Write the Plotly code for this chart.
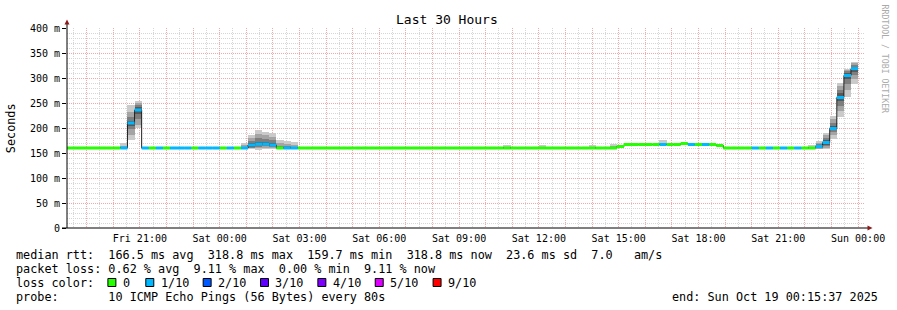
import plotly.graph_objects as go
import pandas as pd

FONT = "DejaVu Sans Mono"

# ---------------- data ----------------
sample_start = "2025-10-17 18:08"      # first consolidated 16-minute sample
view_start = "2025-10-17 18:15:37"
view_end = "2025-10-19 00:15:37"

# median RTT per 16-minute sample (ms)
median_ms = [
    160, 160, 160, 160, 160, 160, 160, 160, 160, 210,   # 0-9
    236, 160, 160, 160, 160, 160, 160, 160, 160, 160,   # 10-19
    160, 160, 160, 160, 160, 160, 166, 168, 168, 166,   # 20-29
    160, 160, 160, 160, 160, 160, 160, 160, 160, 160,   # 30-39
    160, 160, 160, 160, 160, 160, 160, 160, 160, 160,   # 40-49
    160, 160, 160, 160, 160, 160, 160, 160, 160, 160,   # 50-59
    160, 160, 160, 160, 160, 160, 160, 160, 160, 160,   # 60-69
    160, 160, 160, 160, 160, 160, 160, 160, 163, 167,   # 70-79
    167, 167, 167, 167, 167, 167, 167, 169, 167, 167,   # 80-89
    167, 167, 165, 160, 160, 160, 160, 160, 160, 160,   # 90-99
    160, 160, 160, 160, 160, 160, 163, 171, 199, 261,   # 100-109
    305, 318.8,                                         # 110-111
]

# lost pings (out of 10) per sample
loss_count = [
    0, 0, 0, 0, 0, 0, 0, 0, 1, 1,
    1, 1, 0, 1, 0, 1, 1, 1, 0, 1,
    1, 1, 0, 1, 0, 1, 1, 1, 1, 1,
    0, 1, 1, 0, 0, 0, 0, 0, 0, 0,
    0, 0, 0, 0, 0, 0, 0, 0, 0, 0,
    0, 0, 0, 0, 0, 0, 0, 0, 0, 0,
    0, 0, 0, 0, 0, 0, 0, 0, 0, 0,
    0, 0, 0, 0, 0, 0, 0, 0, 0, 0,
    0, 0, 0, 0, 1, 0, 0, 0, 1, 0,
    1, 0, 0, 0, 0, 0, 0, 1, 0, 1,
    0, 1, 0, 1, 0, 0, 1, 1, 1, 1,
    1, 1,
]

# sorted individual ping times (ms) for samples with visible smoke
smoke_index = [8, 9, 10, 25, 26, 27, 28, 29, 30, 31, 32, 62, 67, 74, 77, 84,
               105, 106, 107, 108, 109, 110, 111]
smoke_pings = [
    [159.5, 159.8, 160, 160, 160, 160.2, 160.5, 161, 164, 170],
    [176, 186, 198, 205, 209, 211, 215, 222, 232, 246],
    [200, 206, 218, 228, 234, 238, 242, 246, 250, 254],
    [159, 160, 160, 160, 160, 160, 161, 162, 166, 170],
    [158, 160, 161, 163, 165, 167, 170, 174, 180, 186],
    [157, 160, 163, 166, 167, 169, 173, 180, 188, 196],
    [158, 161, 164, 166, 167, 169, 172, 178, 186, 193],
    [158, 160, 163, 165, 166, 168, 171, 176, 183, 190],
    [159, 159, 160, 160, 160, 161, 162, 165, 170, 176],
    [159, 159, 160, 160, 160, 161, 162, 164, 168, 174],
    [159, 160, 160, 160, 160, 160, 161, 162, 166, 172],
    [159, 159.5, 160, 160, 160, 160, 160.5, 161, 163, 166],
    [159, 159.5, 160, 160, 160, 160, 160.5, 161, 163, 166],
    [159, 159.5, 160, 160, 160, 160, 160.5, 161, 163, 166],
    [159, 159.5, 160, 160, 160, 160, 160.5, 161, 164, 168],
    [166, 166.5, 167, 167, 167, 167, 167.5, 168, 171, 176],
    [159, 159.5, 160, 160, 160, 160, 160.5, 161, 163, 166],
    [158, 159, 160, 161, 162, 164, 166, 168, 171, 175],
    [158, 161, 164, 167, 170, 172, 176, 180, 186, 191],
    [179, 186, 192, 196, 198, 200, 204, 210, 218, 225],
    [223, 234, 245, 254, 259, 263, 270, 276, 284, 291],
    [263, 276, 288, 298, 303, 307, 311, 314, 317, 319],
    [289, 298, 306, 312, 317, 320, 323, 326, 330, 333],
]

loss_colors = ["#26ff00", "#00b8ff", "#0059ff", "#5e00ff", "#7e00ff", "#dd00ff", "#ff0000"]
loss_labels = ["0", "1/10", "2/10", "3/10", "4/10", "5/10", "9/10"]
smoke_grays = ["#cacaca", "#a4a4a4", "#7e7e7e", "#585858", "#323232"]

y_tickvals = [0, 50, 100, 150, 200, 250, 300, 350, 400]
y_ticktext = ["0", "50 m", "100 m", "150 m", "200 m", "250 m", "300 m", "350 m", "400 m"]

x_tick_hours = pd.date_range("2025-10-17 19:00", "2025-10-19 00:00", freq="1h")
x_labels = {"2025-10-17 21:00": "Fri 21:00", "2025-10-18 00:00": "Sat 00:00",
            "2025-10-18 03:00": "Sat 03:00", "2025-10-18 06:00": "Sat 06:00",
            "2025-10-18 09:00": "Sat 09:00", "2025-10-18 12:00": "Sat 12:00",
            "2025-10-18 15:00": "Sat 15:00", "2025-10-18 18:00": "Sat 18:00",
            "2025-10-18 21:00": "Sat 21:00", "2025-10-19 00:00": "Sun 00:00"}

legend_rows = [
    "median rtt:  166.5 ms avg  318.8 ms max  159.7 ms min  318.8 ms now  23.6 ms sd  7.0   am/s",
    "packet loss: 0.62 % avg  9.11 % max  0.00 % min  9.11 % now",
    "loss color:",
    "probe:       10 ICMP Echo Pings (56 Bytes) every 80s",
]
end_text = "end: Sun Oct 19 00:15:37 2025"

# ---------------- geometry helpers ----------------
W, H = 897, 310
L, R, T, B = 67, 30, 28, 82
PW, PH = W - L - R, H - T - B


def px(x):
    return (x - L) / PW


def py(y):
    return (T + PH - y) / PH


step = pd.Timedelta(minutes=16)
times = pd.date_range(sample_start, periods=len(median_ms), freq="16min")
step_ms = step.total_seconds() * 1000

fig = go.Figure()

# smoke bands
for b, gray in enumerate(smoke_grays):
    xs, bases, heights = [], [], []
    for idx, pings in zip(smoke_index, smoke_pings):
        p = sorted(pings)
        xs.append(times[idx])
        bases.append(p[b])
        heights.append(p[len(p) - 1 - b] - p[b])
    fig.add_trace(go.Bar(x=xs, y=heights, base=bases, width=[step_ms] * len(xs),
                         offset=0, marker=dict(color=gray, line=dict(width=0)),
                         hoverinfo="skip"))

# thin dark median step line
fig.add_trace(go.Scatter(x=list(times) + [times[-1] + step], y=median_ms + [median_ms[-1]],
                         mode="lines", line=dict(color="#202020", width=1, shape="hv"),
                         hoverinfo="skip"))

# loss-coloured median segments
for lvl, col in enumerate(loss_colors):
    xs, ys = [], []
    for t, m, lc in zip(times, median_ms, loss_count):
        if lc == lvl:
            xs += [t, t + step, None]
            ys += [m, m, None]
    if xs:
        fig.add_trace(go.Scatter(x=xs, y=ys, mode="lines",
                                 line=dict(color=col, width=3), hoverinfo="skip"))

annotations = []
shapes = []

# title & side texts
annotations.append(dict(text="Last 30 Hours", x=px(448), y=py(19), xref="paper", yref="paper",
                        showarrow=False, xanchor="center", yanchor="middle",
                        font=dict(family=FONT, size=13, color="#000")))
annotations.append(dict(text="Seconds", x=px(11), y=py(128), xref="paper", yref="paper",
                        showarrow=False, textangle=-90, xanchor="center", yanchor="middle",
                        font=dict(family=FONT, size=11.8, color="#000")))
annotations.append(dict(text="RRDTOOL / TOBI OETIKER", x=px(887.5), y=py(59), xref="paper",
                        yref="paper", showarrow=False, textangle=90, xanchor="center",
                        yanchor="middle", font=dict(family=FONT, size=8.2, color="#aaaaaa")))

row_y = [255, 268.5, 282.5, 296.5]
for txt, yy in zip(legend_rows, row_y):
    annotations.append(dict(text=txt.replace(" ", "\u00a0"), x=px(14), y=py(yy), xref="paper",
                            yref="paper", showarrow=False, xanchor="left", yanchor="middle",
                            font=dict(family=FONT, size=11.8, color="#000")))
annotations.append(dict(text=end_text.replace(" ", "\u00a0"), x=px(882), y=py(row_y[3]),
                        xref="paper", yref="paper", showarrow=False, xanchor="right",
                        yanchor="middle", font=dict(family=FONT, size=11.8, color="#000")))

box_x = [108, 146, 203.5, 261, 318.5, 376, 434]
for bx, col, lab in zip(box_x, loss_colors, loss_labels):
    shapes.append(dict(type="rect", xref="paper", yref="paper", x0=px(bx), x1=px(bx + 8),
                       y0=py(286.5), y1=py(278.5), fillcolor=col,
                       line=dict(color="#000", width=1)))
    annotations.append(dict(text=lab, x=px(bx + 13), y=py(row_y[2]), xref="paper", yref="paper",
                            showarrow=False, xanchor="left", yanchor="middle",
                            font=dict(family=FONT, size=11.8, color="#000")))

# axes lines & arrows
shapes.append(dict(type="line", xref="paper", yref="paper", x0=px(67), x1=px(67),
                   y0=py(228), y1=py(22), line=dict(color="#000", width=1)))
shapes.append(dict(type="line", xref="paper", yref="paper", x0=px(62), x1=px(870),
                   y0=py(228), y1=py(228), line=dict(color="#000", width=1)))
shapes.append(dict(type="path", xref="paper", yref="paper", fillcolor="#8b1a1a",
                   line=dict(color="#8b1a1a", width=0),
                   path=f"M {px(64.5)},{py(24.5)} L {px(69.5)},{py(24.5)} L {px(67)},{py(19.5)} Z"))
shapes.append(dict(type="path", xref="paper", yref="paper", fillcolor="#8b1a1a",
                   line=dict(color="#8b1a1a", width=0),
                   path=f"M {px(869.5)},{py(225.5)} L {px(869.5)},{py(230.5)} L {px(874.5)},{py(228)} Z"))

x_ticktext = [x_labels.get(t.strftime("%Y-%m-%d %H:%M"), "") for t in x_tick_hours]

fig.update_layout(
    width=W, height=H, autosize=False,
    margin=dict(l=L, r=R, t=T, b=B, pad=0),
    plot_bgcolor="#ffffff", paper_bgcolor="#ffffff",
    showlegend=False, barmode="overlay", bargap=0,
    annotations=annotations, shapes=shapes,
    xaxis=dict(type="date", range=[view_start, view_end], tickmode="array",
               tickvals=list(x_tick_hours), ticktext=x_ticktext,
               showgrid=True, gridcolor="#f4a8a8", griddash="1px,1px", gridwidth=1,
               minor=dict(dtick=30 * 60 * 1000, tick0="2025-10-17 18:30", showgrid=True,
                          gridcolor="#d6d6d6", griddash="1px,1px", gridwidth=1),
               ticks="", showline=False, zeroline=False, fixedrange=True,
               ticklabelstandoff=3,
               tickfont=dict(family=FONT, size=10, color="#000")),
    yaxis=dict(range=[0, 400], tickmode="array", tickvals=y_tickvals, ticktext=y_ticktext,
               showgrid=True, gridcolor="#f4a8a8", griddash="1px,1px", gridwidth=1,
               minor=dict(dtick=10, tick0=0, showgrid=True, gridcolor="#d6d6d6",
                          griddash="1px,1px", gridwidth=1),
               ticks="outside", ticklen=4, tickcolor="#000", showline=False,
               zeroline=False, fixedrange=True,
               tickfont=dict(family=FONT, size=10, color="#000")),
)

fig.write_html("out.html")
